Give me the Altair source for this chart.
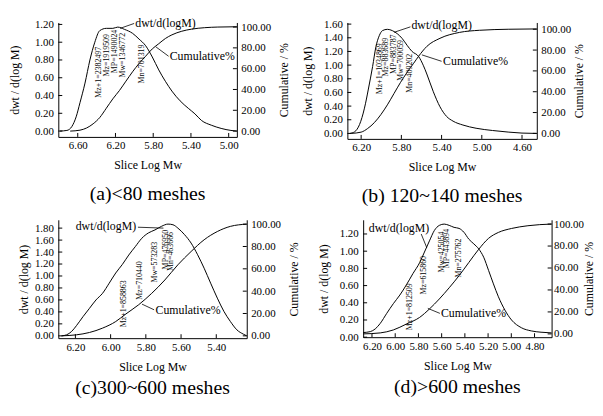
import altair as alt
import pandas as pd

FONT = "Liberation Serif"

# ---------------- panel (a) ----------------
a_dwt_x = [6.79, 6.715, 6.663, 6.617, 6.576, 6.523, 6.471, 6.419, 6.367, 6.297, 6.228, 6.176, 6.106,
           6.019, 5.95, 5.88, 5.81, 5.741, 5.671, 5.602, 5.515, 5.428, 5.358, 5.289, 5.184, 5.08, 4.976, 4.913]
a_dwt_y = [0, 0.007, 0.05, 0.16, 0.32, 0.54, 0.80, 1.00, 1.13, 1.156, 1.156, 1.17, 1.145,
           1.10, 1.035, 0.96, 0.834, 0.688, 0.56, 0.45, 0.34, 0.256, 0.194, 0.12, 0.066, 0.03, 0.007, 0]
a_cum_x = [6.68, 6.576, 6.506, 6.437, 6.367, 6.297, 6.228, 6.158, 6.089, 6.019, 5.95, 5.88, 5.81,
           5.741, 5.671, 5.602, 5.497, 5.393, 5.254, 5.115, 4.913]
a_cum_y = [0, 0.9, 3, 7, 13, 22, 31, 39, 48, 57, 65, 72, 79, 84, 89, 92.5, 96, 98, 99.4, 100, 100.3]
a_xticks = [6.6, 6.2, 5.8, 5.4, 5.0]
a_lticks = [0, 0.2, 0.4, 0.6, 0.8, 1.0, 1.2]
a_mtext = ["Mz+1=2382497", "Mz=1919509", "MP=1490024", "Mw=1346772", "Mn=701319"]
a_mx = [6.377, 6.29, 6.21, 6.124, 5.92]
a_my = [0.662, 0.853, 0.896, 0.853, 0.754]

# ---------------- panel (b) ----------------
b_dwt_x = [6.314, 6.265, 6.216, 6.167, 6.128, 6.086, 6.053, 6.02, 5.988, 5.939, 5.89, 5.841, 5.792,
           5.743, 5.694, 5.629, 5.58, 5.547, 5.482, 5.416, 5.351, 5.286, 5.188, 5.057, 4.894, 4.731, 4.6, 4.453]
b_dwt_y = [0, 0.024, 0.13, 0.37, 0.65, 0.98, 1.27, 1.43, 1.505, 1.524, 1.505, 1.46, 1.39,
           1.29, 1.20, 1.127, 0.99, 0.87, 0.61, 0.39, 0.25, 0.18, 0.123, 0.076, 0.043, 0.019, 0.005, 0]
b_cum_x = [6.298, 6.2, 6.135, 6.069, 6.004, 5.939, 5.873, 5.808, 5.743, 5.678, 5.629, 5.547, 5.416,
           5.22, 5.024, 4.731, 4.453]
b_cum_y = [0, 1.2, 4.7, 10.3, 18, 27.4, 38.3, 49, 58.6, 67.3, 74, 83.5, 91.3, 97, 99, 100, 100.3]
b_xticks = [6.2, 5.8, 5.4, 5.0, 4.6]
b_lticks = [0, 0.2, 0.4, 0.6, 0.8, 1.0, 1.2, 1.4, 1.6]
b_mtext = ["Mz+1=1034869", "Mz=883689", "MP=883787", "Mw=700059", "Mn=409202"]
b_mx = [6.014, 5.955, 5.873, 5.80, 5.71]
b_my = [0.947, 1.117, 1.16, 1.07, 0.88]

# ---------------- panel (c) ----------------
c_dwt_x = [6.278, 6.25, 6.222, 6.194, 6.157, 6.12, 6.083, 6.046, 6.008, 5.971, 5.934, 5.897, 5.86,
           5.823, 5.785, 5.748, 5.711, 5.674, 5.646, 5.618, 5.58, 5.543, 5.506, 5.469, 5.432, 5.394,
           5.357, 5.32, 5.283, 5.246, 5.227]
c_dwt_y = [0, 0.017, 0.072, 0.17, 0.32, 0.46, 0.60, 0.71, 0.88, 1.05, 1.19, 1.35, 1.49,
           1.63, 1.72, 1.77, 1.83, 1.867, 1.856, 1.80, 1.69, 1.55, 1.355, 1.13, 0.88, 0.63,
           0.41, 0.24, 0.10, 0.028, 0]
c_cum_x = [6.278, 6.194, 6.12, 6.046, 5.971, 5.915, 5.841, 5.767, 5.692, 5.618, 5.543, 5.469, 5.394,
           5.32, 5.227]
c_cum_y = [0, 0.9, 3, 6.9, 12.8, 19.4, 27.8, 38, 50, 63.6, 75.5, 86, 93.4, 98, 100]
c_xticks = [6.2, 6.0, 5.8, 5.6, 5.4]
c_lticks = [0, 0.2, 0.4, 0.6, 0.8, 1.0, 1.2, 1.4, 1.6, 1.8]
c_mtext = ["Mz+1=858863", "Mz=710440", "Mw=573283", "MP=476950", "Mn=463666"]
c_mx = [5.925, 5.832, 5.748, 5.686, 5.659]
c_my = [0.535, 0.925, 1.23, 1.44, 1.41]

# ---------------- panel (d) ----------------
d_dwt_x = [6.276, 6.214, 6.172, 6.129, 6.073, 6.016, 5.96, 5.903, 5.847, 5.79, 5.748, 5.705, 5.663,
           5.62, 5.578, 5.535, 5.493, 5.45, 5.408, 5.366, 5.323, 5.281, 5.238, 5.196, 5.154, 5.111,
           5.055, 4.998, 4.913, 4.828, 4.744, 4.653]
d_dwt_y = [0.054, 0.065, 0.096, 0.16, 0.277, 0.39, 0.49, 0.61, 0.74, 0.865, 0.99, 1.12, 1.24,
           1.30, 1.315, 1.30, 1.277, 1.265, 1.22, 1.14, 1.085, 1.027, 0.93, 0.777, 0.62, 0.47,
           0.315, 0.2, 0.11, 0.073, 0.058, 0.05]
d_cum_x = [6.276, 6.129, 6.016, 5.903, 5.79, 5.705, 5.62, 5.535, 5.45, 5.366, 5.281, 5.196, 5.111,
           4.998, 4.857, 4.653]
d_cum_y = [0, 0.9, 3.6, 9, 15, 22.7, 31.8, 42, 53, 65, 77, 87, 92.4, 96, 98.5, 100]
d_xticks = [6.2, 6.0, 5.8, 5.6, 5.4, 5.2, 5.0, 4.8]
d_lticks = [0, 0.2, 0.4, 0.6, 0.8, 1.0, 1.2]
d_mtext = ["Mz+1=812509", "Mz=615860", "Mw=425054", "MP=443894", "Mn=275762"]
d_mx = [5.869, 5.748, 5.598, 5.555, 5.45]
d_my = [0.354, 0.72, 0.99, 1.03, 0.92]

RIGHT_TICKS = [0, 20, 40, 60, 80, 100]

PANELS = [
    dict(dx=a_dwt_x, dy=a_dwt_y, cx=a_cum_x, cy=a_cum_y, xticks=a_xticks, lticks=a_lticks,
         mtext=a_mtext, mx=a_mx, my=a_my, w=181, h=116,
         xdom=[4.913, 6.806], ldom=[-0.066, 1.222], rdom=[-5.6, 104.4],
         caption="(a)<80 meshes",
         notes=[("dwt/d(logM)", 5.99, 1.218, "left"), ("Cumulative%", 5.625, 0.84, "left")],
         leads=[(6.151, 1.156, 6.002, 1.211), (5.776, 0.951, 5.637, 0.842)]),
    dict(dx=b_dwt_x, dy=b_dwt_y, cx=b_cum_x, cy=b_cum_y, xticks=b_xticks, lticks=b_lticks,
         mtext=b_mtext, mx=b_mx, my=b_my, w=192, h=118,
         xdom=[4.453, 6.337], ldom=[-0.08, 1.624], rdom=[-5.3, 106.5],
         caption="(b) 120~140 meshes",
         notes=[("dwt/d(logM)", 5.70, 1.59, "left"), ("Cumulative%", 5.385, 1.056, "left")],
         leads=[(5.873, 1.48, 5.71, 1.56), (5.596, 1.15, 5.40, 1.056)]),
    dict(dx=c_dwt_x, dy=c_dwt_y, cx=c_cum_x, cy=c_cum_y, xticks=c_xticks, lticks=c_lticks,
         mtext=c_mtext, mx=c_mx, my=c_my, w=191, h=120,
         xdom=[5.227, 6.297], ldom=[-0.039, 1.939], rdom=[-2.1, 103.9],
         caption="(c)300~600 meshes",
         notes=[("dwt/d(logM)", 5.855, 1.83, "right"), ("Cumulative%", 5.745, 0.435, "left")],
         leads=[(5.845, 1.815, 5.70, 1.80), (5.822, 0.53, 5.753, 0.435)]),
    dict(dx=d_dwt_x, dy=d_dwt_y, cx=d_cum_x, cy=d_cum_y, xticks=d_xticks, lticks=d_lticks,
         mtext=d_mtext, mx=d_mx, my=d_my, w=191, h=119,
         xdom=[4.653, 6.276], ldom=[0, 1.365], rdom=[-3, 103.9],
         caption="(d)>600 meshes",
         notes=[("dwt/d(logM)", 6.228, 1.265, "left"), ("Cumulative%", 5.606, 0.277, "left")],
         leads=[(5.776, 1.20, 5.728, 1.04), (5.719, 0.335, 5.615, 0.277)]),
]

AX = dict(labelFont=FONT, titleFont=FONT, labelFontSize=11, titleFontSize=12,
          titleFontWeight="normal", labelColor="black", titleColor="black",
          domainColor="black", domainWidth=1, ticks=False, labelOverlap=False, grid=False)


def panel(p, left_title_pad=9, x_title_pad=9, cap_offset=12, r_label_pad=4, r_title_pad=8):
    W, H = p["w"], p["h"]
    xs = alt.Scale(domain=p["xdom"], reverse=True, nice=False, zero=False)
    ls = alt.Scale(domain=p["ldom"], nice=False, zero=False)
    rs = alt.Scale(domain=p["rdom"], nice=False, zero=False)
    xa = alt.Axis(values=p["xticks"], format=".2f", title="Slice Log Mw",
                  labelPadding=3, titlePadding=x_title_pad, labelFlush=False, **AX)
    la = alt.Axis(orient="left", values=p["lticks"], format=".2f", title="dwt / d(log M)",
                  labelPadding=5, titlePadding=left_title_pad, **AX)
    ra = alt.Axis(orient="right", values=RIGHT_TICKS, format=".2f", title="Cumulative / %",
                  titleAngle=270, titleBaseline="top", labelPadding=r_label_pad,
                  titlePadding=r_title_pad, **AX)
    # every layer shares the same x scale and the same x axis definition
    nx = alt.X("x:Q", scale=xs, axis=xa)
    ny = alt.Y("y:Q", scale=ls, axis=None)

    dwt = alt.Chart(pd.DataFrame({"x": p["dx"], "y": p["dy"]})).mark_line(
        color="black", strokeWidth=1, interpolate="monotone"
    ).encode(x=nx, y=alt.Y("y:Q", scale=ls, axis=la))

    cum = alt.Chart(pd.DataFrame({"x": p["cx"], "y": p["cy"]})).mark_line(
        color="black", strokeWidth=1, interpolate="monotone"
    ).encode(x=nx, y=alt.Y("y:Q", scale=rs, axis=ra))

    xtick = alt.Chart(pd.DataFrame({"x": p["xticks"]})).mark_rule(color="black", strokeWidth=1).encode(
        x=nx, y=alt.value(H), y2=alt.value(H - 4))
    ltick = alt.Chart(pd.DataFrame({"y": p["lticks"]})).mark_rule(color="black", strokeWidth=1).encode(
        y=ny, x=alt.value(0), x2=alt.value(4))
    rtick = alt.Chart(pd.DataFrame({"y": RIGHT_TICKS})).mark_rule(color="black", strokeWidth=1).encode(
        y=alt.Y("y:Q", scale=rs, axis=None), x=alt.value(W), x2=alt.value(W - 4))

    mlab = alt.Chart(pd.DataFrame({"x": p["mx"], "y": p["my"], "t": p["mtext"]})).mark_text(
        angle=270, font=FONT, fontSize=8, color="black", align="center", baseline="middle"
    ).encode(x=nx, y=ny, text="t:N")

    lead_df = pd.DataFrame([dict(x=a, y=b, x2=c, y2=d) for a, b, c, d in p["leads"]])
    leads = alt.Chart(lead_df).mark_rule(color="black", strokeWidth=0.8).encode(
        x=nx, y=ny, x2="x2:Q", y2="y2:Q")

    note_layers = []
    for t, x, y, al in p["notes"]:
        note_layers.append(
            alt.Chart(pd.DataFrame({"x": [x], "y": [y], "t": [t]})).mark_text(
                font=FONT, fontSize=12, color="black", align=al, baseline="middle"
            ).encode(x=nx, y=ny, text="t:N"))

    return alt.layer(dwt, cum, xtick, ltick, rtick, leads, mlab, *note_layers).resolve_scale(
        y="independent").properties(
        width=W, height=H,
        title=alt.TitleParams(text=p["caption"], orient="bottom", anchor="middle", font=FONT,
                              fontSize=20, fontWeight="normal", color="black", offset=cap_offset))


pa = panel(PANELS[0], left_title_pad=13, x_title_pad=9, cap_offset=14)
pb = panel(PANELS[1], x_title_pad=9, cap_offset=14, r_title_pad=3)
pc = panel(PANELS[2], left_title_pad=4, x_title_pad=10, cap_offset=6)
pd_ = panel(PANELS[3], x_title_pad=10, cap_offset=6, r_label_pad=2, r_title_pad=0)

top = alt.hconcat(pa, pb, spacing=11)
bottom = alt.hconcat(pc, pd_, spacing=17)

chart = alt.vconcat(top, bottom, spacing=12).properties(
    padding={"left": 0, "top": 6, "right": 0, "bottom": 0}, background="white"
).configure_view(stroke=None)

chart.save("out.html", embed_options={"renderer": "svg", "actions": False})
